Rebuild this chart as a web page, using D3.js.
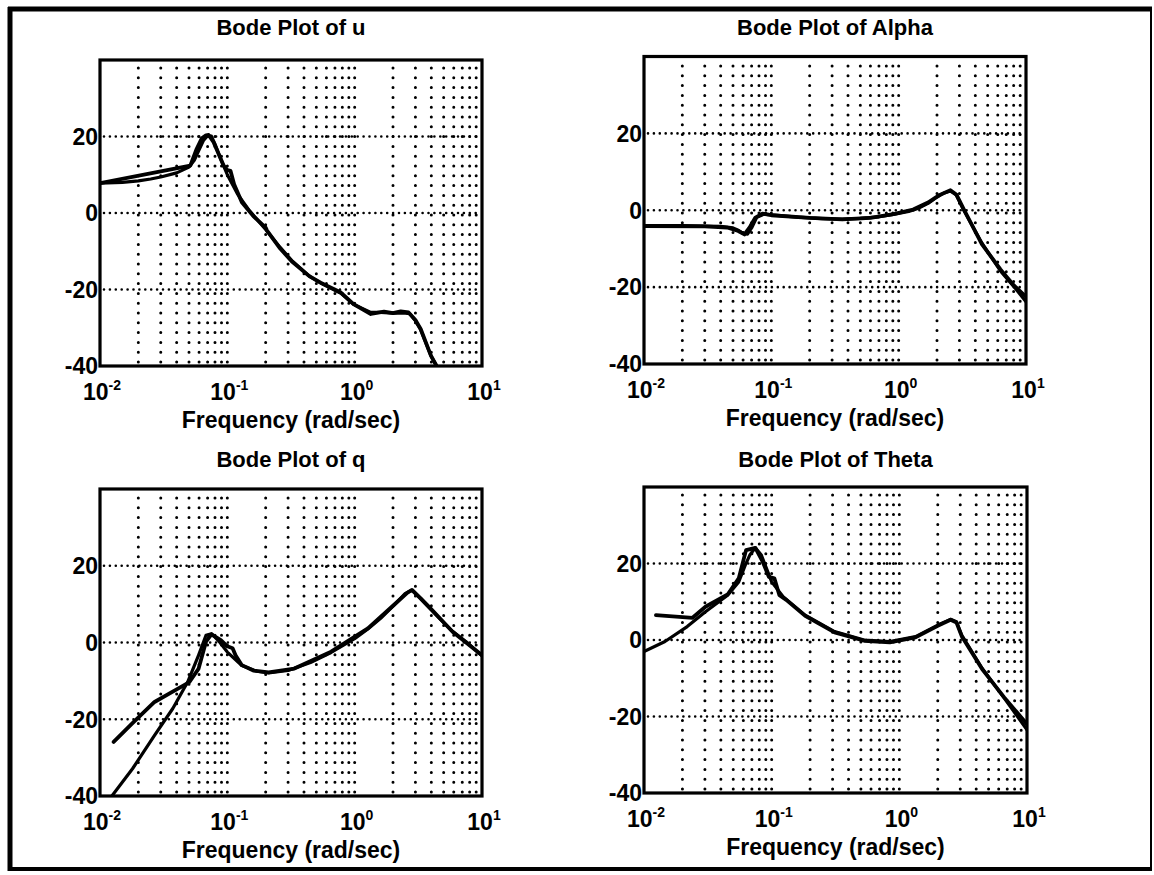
<!DOCTYPE html>
<html><head><meta charset="utf-8">
<script src="https://cdn.jsdelivr.net/npm/d3@7/dist/d3.min.js"></script>
<style>
html,body{margin:0;padding:0;background:#fff;}
svg{display:block;}
text{font-family:"Liberation Sans",Arial,Helvetica,sans-serif;font-weight:bold;fill:#000;}
</style></head><body>
<svg id="chart" width="1154" height="875"></svg>
<script>
// ---------- data ----------
const titles = ["Bode Plot of u", "Bode Plot of Alpha", "Bode Plot of q", "Bode Plot of Theta"];
const xLabel = "Frequency (rad/sec)";
const yTickValues = [-40, -20, 0, 20];
const yGridValues = [-20, 0, 20];
const xTickExponents = [-2, -1, 0, 1];

// u
const uFreqMeas = [0.01, 0.0512, 0.057, 0.063, 0.068, 0.0713, 0.078, 0.0935, 0.1, 0.106, 0.113, 0.13, 0.16, 0.2, 0.205, 0.26, 0.32, 0.44, 0.54, 0.78, 0.98, 1.34, 1.7, 2.0, 2.3, 2.65, 3.0, 3.3, 3.97, 4.4];
const uMagMeas  = [7.8, 12.4, 16.5, 19.5, 20.3, 20.4, 18.5, 12.4, 11.2, 11.0, 7.5, 2.8, -0.8, -3.8, -4.6, -9.3, -12.6, -16.5, -18.2, -20.8, -23.8, -26.4, -25.8, -26.2, -25.7, -26.0, -28.0, -30.3, -37.3, -40];
const uFreqModel = [0.01, 0.015, 0.02, 0.025, 0.03, 0.04, 0.05, 0.055, 0.06, 0.065, 0.07, 0.075, 0.08, 0.09, 0.1, 0.12, 0.15, 0.2, 0.26, 0.32, 0.44, 0.54, 0.78, 0.98, 1.34, 1.6, 2.0, 2.4, 2.7, 3.0, 3.3, 3.97, 4.4];
const uMagModel  = [7.8, 8.0, 8.4, 8.9, 9.4, 10.5, 12.0, 13.8, 16.5, 19.0, 20.2, 20.1, 18.0, 13.6, 10.0, 5.0, 0.5, -4.3, -9.0, -12.4, -16.5, -18.3, -21.0, -23.9, -26.0, -26.0, -26.2, -26.1, -26.3, -28.2, -30.6, -37.3, -40];

// Alpha
const aFreqMeas = [0.01, 0.03, 0.045, 0.055, 0.0615, 0.068, 0.075, 0.085, 0.1, 0.2, 0.36, 0.6, 0.91, 1.3, 1.7, 2.1, 2.55, 2.85, 3.3, 4.5, 6.3, 8.0, 10.0];
const aMagMeas  = [-4.1, -4.2, -4.5, -5.4, -6.3, -4.3, -1.9, -0.9, -1.3, -2.0, -2.4, -2.0, -1.0, 0.2, 2.0, 4.0, 5.2, 4.0, -0.2, -8.8, -15.4, -19.5, -22.5];
const aFreqModel = [0.01, 0.02, 0.03, 0.04, 0.05, 0.055, 0.06, 0.065, 0.07, 0.077, 0.088, 0.1, 0.16, 0.25, 0.36, 0.5, 0.7, 0.91, 1.2, 1.45, 1.7, 1.95, 2.25, 2.55, 2.82, 3.22, 4.5, 6.3, 8.0, 10.0];
const aMagModel  = [-4.0, -4.0, -4.1, -4.2, -4.6, -5.2, -6.0, -6.2, -4.6, -1.8, -1.0, -1.2, -1.8, -2.2, -2.3, -2.1, -1.7, -1.1, -0.3, 0.6, 1.8, 3.2, 4.4, 5.0, 4.1, 0.2, -8.5, -15.8, -19.8, -23.8];

// q
const qFreqMeas = [0.0128, 0.018, 0.0268, 0.04, 0.0504, 0.0595, 0.068, 0.075, 0.089, 0.1, 0.11, 0.116, 0.13, 0.16, 0.211, 0.336, 0.653, 1.27, 2.02, 2.6, 2.82, 3.3, 3.94, 5.87, 10];
const qMagMeas  = [-25.9, -21.0, -15.5, -12.2, -10.3, -6.8, 0.2, 2.1, 0.6, -1.0, -1.5, -3.3, -5.9, -7.3, -7.8, -6.8, -2.4, 3.7, 9.7, 13.0, 13.7, 11.5, 8.9, 2.8, -3.3];
const qFreqModel = [0.0124, 0.018, 0.0268, 0.0373, 0.0488, 0.0595, 0.068, 0.075, 0.085, 0.1, 0.13, 0.17, 0.211, 0.3, 0.45, 0.653, 1.0, 1.27, 1.6, 2.02, 2.5, 2.82, 3.2, 3.94, 5.0, 5.87, 7.5, 10];
const qMagModel  = [-40, -32.9, -24.2, -17.2, -10.3, -3.3, 1.9, 2.3, 0.5, -2.5, -6.0, -7.5, -7.9, -7.3, -5.2, -2.6, 1.0, 3.5, 6.3, 9.6, 12.8, 13.6, 11.8, 8.7, 5.2, 2.9, 0.2, -3.5];

// Theta
const tFreqMeas = [0.0124, 0.024, 0.0303, 0.0452, 0.0552, 0.063, 0.0745, 0.085, 0.095, 0.105, 0.115, 0.13, 0.183, 0.311, 0.53, 0.843, 1.34, 2.0, 2.52, 2.8, 3.08, 4.45, 6.63, 10];
const tMagMeas  = [6.5, 5.8, 8.7, 11.9, 16.1, 23.5, 24.1, 20.5, 16.5, 16.1, 11.7, 10.5, 6.3, 2.0, -0.2, -0.6, 0.7, 3.7, 5.3, 4.6, 1.0, -7.6, -15.0, -22.0];
const tFreqModel = [0.01, 0.0146, 0.0218, 0.0303, 0.0452, 0.0552, 0.062, 0.0674, 0.0745, 0.083, 0.1, 0.123, 0.183, 0.311, 0.53, 0.843, 1.34, 2.0, 2.52, 2.8, 3.08, 4.45, 6.63, 10];
const tMagModel  = [-3.0, -0.4, 3.5, 7.4, 11.7, 15.2, 19.5, 22.2, 24.1, 22.2, 15.2, 11.3, 6.5, 2.2, 0.0, -0.4, 0.9, 3.9, 5.4, 4.8, 1.3, -7.4, -15.2, -23.5];

// ---------- layout ----------
const panels = [
  {title: titles[0], series: [[uFreqModel, uMagModel], [uFreqMeas, uMagMeas]], x0: 100, x1: 482, yTop: 60,   yBot: 366, titleY: 35},
  {title: titles[1], series: [[aFreqModel, aMagModel], [aFreqMeas, aMagMeas]], x0: 644, x1: 1026, yTop: 56.5, yBot: 364, titleY: 35},
  {title: titles[2], series: [[qFreqModel, qMagModel], [qFreqMeas, qMagMeas]], x0: 100, x1: 482, yTop: 489,  yBot: 796, titleY: 467},
  {title: titles[3], series: [[tFreqModel, tMagModel], [tFreqMeas, tMagMeas]], x0: 644, x1: 1027, yTop: 487,  yBot: 793, titleY: 467}
];

const svg = d3.select("#chart");
svg.append("rect").attr("width", 1154).attr("height", 875).attr("fill", "#fff");

// outer frame
const frame = svg.append("g").attr("stroke", "#000").attr("fill", "none");
frame.append("line").attr("x1", 10).attr("x2", 10).attr("y1", 7).attr("y2", 871).attr("stroke-width", 5);
frame.append("line").attr("x1", 8).attr("x2", 1152).attr("y1", 9).attr("y2", 9).attr("stroke-width", 5);
frame.append("line").attr("x1", 1151).attr("x2", 1151).attr("y1", 7).attr("y2", 871).attr("stroke-width", 2);
frame.append("line").attr("x1", 8).attr("x2", 1152).attr("y1", 869).attr("y2", 869).attr("stroke-width", 4);

panels.forEach((p, i) => {
  const x = d3.scaleLog().domain([0.01, 10]).range([p.x0, p.x1]);
  const y = d3.scaleLinear().domain([-40, 40]).range([p.yBot, p.yTop]);
  const g = svg.append("g");

  const clipId = "clip" + i;
  svg.append("clipPath").attr("id", clipId).append("rect")
    .attr("x", p.x0).attr("y", p.yTop).attr("width", p.x1 - p.x0).attr("height", p.yBot - p.yTop);

  // vertical grid (log minor + decades)
  const xGrid = x.ticks().filter(v => v > 0.0101 && v < 9.9);
  g.append("g").selectAll("line").data(xGrid).join("line")
    .attr("x1", d => x(d)).attr("x2", d => x(d))
    .attr("y1", p.yBot - 4).attr("y2", p.yTop + 3)
    .attr("stroke", "#000").attr("stroke-width", 3)
    .attr("stroke-linecap", "round").attr("stroke-dasharray", "0,9.8");

  // horizontal grid
  g.append("g").selectAll("line").data(yGridValues).join("line")
    .attr("x1", p.x0 + 4).attr("x2", p.x1 - 3)
    .attr("y1", d => y(d)).attr("y2", d => y(d))
    .attr("stroke", "#000").attr("stroke-width", 2.6)
    .attr("stroke-linecap", "round").attr("stroke-dasharray", "0,5.9");

  // curves
  const line = d3.line().x(d => x(d[0])).y(d => y(d[1]));
  const cg = g.append("g").attr("clip-path", `url(#${clipId})`);
  p.series.forEach((s, k) => {
    const pts = s[0].map((f, j) => [f, s[1][j]]);
    cg.append("path").datum(pts).attr("d", line)
      .attr("fill", "none").attr("stroke", "#000")
      .attr("stroke-width", k === 0 ? 3.2 : 3.8)
      .attr("stroke-linejoin", "round").attr("stroke-linecap", "round");
  });

  // box
  g.append("rect").attr("x", p.x0).attr("y", p.yTop)
    .attr("width", p.x1 - p.x0).attr("height", p.yBot - p.yTop)
    .attr("fill", "none").attr("stroke", "#000").attr("stroke-width", 3.2);

  // y tick labels
  g.append("g").selectAll("text").data(yTickValues).join("text")
    .attr("x", p.x0 - 2).attr("y", d => y(d)).attr("dy", "0.36em")
    .attr("text-anchor", "end").attr("font-size", 23)
    .text(d => d);

  // x tick labels 10^n
  const xt = g.append("g").selectAll("text").data(xTickExponents).join("text")
    .attr("x", d => x(Math.pow(10, d)) + 2).attr("y", p.yBot + 34)
    .attr("text-anchor", "middle").attr("font-size", 23);
  xt.append("tspan").text("10");
  xt.append("tspan").attr("dy", -10).attr("font-size", 14).text(d => d);

  // x label
  g.append("text").attr("x", (p.x0 + p.x1) / 2).attr("y", p.yBot + 62)
    .attr("text-anchor", "middle").attr("font-size", 23).text(xLabel);

  // title
  g.append("text").attr("x", (p.x0 + p.x1) / 2).attr("y", p.titleY)
    .attr("text-anchor", "middle").attr("font-size", 22).text(p.title);
});
</script>
</body></html>
